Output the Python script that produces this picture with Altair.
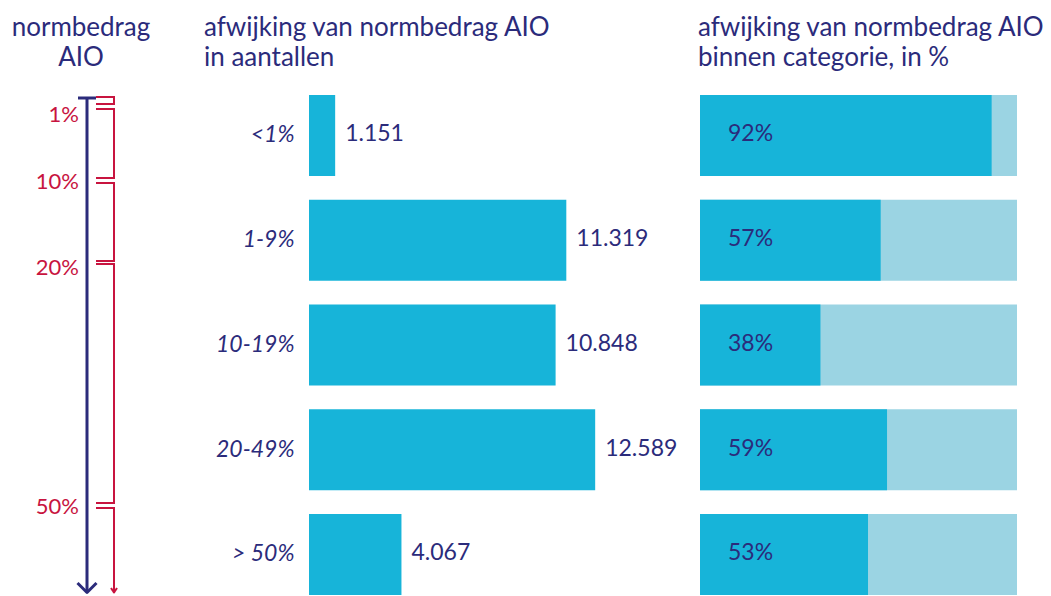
import altair as alt
import pandas as pd

# ---------------- data ----------------
categories = ["<1%", "1-9%", "10-19%", "20-49%", "> 50%"]
counts = [1151, 11319, 10848, 12589, 4067]
shares = [92, 57, 38, 59, 53]

# schematic "normbedrag AIO" arrow (positions along a schematic axis)
threshold_labels = ["1%", "10%", "20%", "50%"]
threshold_label_pos = [114, 181, 267, 506]
bracket_tops = [96, 108, 182, 263, 507]
bracket_bottoms = [103, 177, 260, 502, 592]

NAVY = "#2b2b7b"
RED = "#c8143f"
CYAN = "#17b4d9"
LIGHT = "#9bd4e3"
FONT = "Lato"
H = 596
WA, WB, WC = 308, 391, 317

# ---------------- panel A: schematic ----------------
xs = alt.Scale(domain=[0, WA], nice=False, zero=False)
ysA = alt.Scale(domain=[0, H], nice=False, zero=False, reverse=True)

blue = pd.DataFrame([
    dict(x=86, x2=86, y=97, y2=591),
    dict(x=77, x2=95, y=97, y2=97),
    dict(x=76.5, x2=86.5, y=582, y2=592),
    dict(x=95.5, x2=85.5, y=582, y2=592),
])
red_rows = []
n = len(bracket_tops)
for i, (t, b) in enumerate(zip(bracket_tops, bracket_bottoms)):
    red_rows.append(dict(x=95, x2=114, y=t, y2=t))
    red_rows.append(dict(x=113, x2=113, y=t, y2=b))
    if i < n - 1:
        red_rows.append(dict(x=95, x2=114, y=b, y2=b))
red_rows.append(dict(x=110, x2=113.3, y=587, y2=592))
red_rows.append(dict(x=116, x2=112.7, y=587, y2=592))
red = pd.DataFrame(red_rows)

def seg_enc(ch):
    return ch.encode(
        x=alt.X("x:Q", scale=xs, axis=None), x2="x2:Q",
        y=alt.Y("y:Q", scale=ysA, axis=None), y2="y2:Q",
    )

blue_layer = seg_enc(alt.Chart(blue).mark_rule(color=NAVY, strokeWidth=3))
red_layer = seg_enc(alt.Chart(red).mark_rule(color=RED, strokeWidth=2))
thr = pd.DataFrame({"label": threshold_labels, "pos": threshold_label_pos})
thr_layer = alt.Chart(thr).mark_text(
    align="right", baseline="middle", font=FONT, fontSize=22, color=RED
).encode(
    x=alt.value(78), y=alt.Y("pos:Q", scale=ysA, axis=None), text="label:N"
)
titleA = alt.Chart(pd.DataFrame({"t": [0]})).mark_text(
    text=["normbedrag", "AIO"], align="center", baseline="alphabetic",
    font=FONT, fontSize=26, lineHeight=29.5, color=NAVY,
).encode(x=alt.value(80), y=alt.value(35))

panelA = alt.layer(red_layer, blue_layer, thr_layer, titleA).properties(width=WA, height=H)

# ---------------- shared table ----------------
df = pd.DataFrame({
    "cat": categories,
    "count": counts,
    "label": [f"{c:,}".replace(",", ".") for c in counts],
    "share": shares,
    "full": [100] * len(shares),
    "plabel": [f"{s}%" for s in shares],
})

band = alt.Scale(domain=categories, paddingInner=0.2267, paddingOuter=0.458, align=0.979)

# ---------------- panel B: counts ----------------
yB = alt.Y("cat:N", sort=categories, scale=band, title=None,
           axis=alt.Axis(domain=False, ticks=False, grid=False, labelPadding=15,
                         labelFont=FONT, labelFontSize=23, labelFontStyle="italic",
                         labelColor=NAVY))
baseB = alt.Chart(df).encode(y=yB)
barsB = baseB.mark_bar(color=CYAN).encode(
    x=alt.X("count:Q", scale=alt.Scale(domain=[0, 17200], nice=False), axis=None)
)
valsB = baseB.mark_text(align="left", baseline="middle", dx=10, dy=-1,
                        font=FONT, fontSize=23, color=NAVY).encode(
    x="count:Q", text="label:N"
)
titleB = alt.Chart(pd.DataFrame({"t": [0]})).mark_text(
    text=["afwijking van normbedrag AIO", "in aantallen"], align="left",
    baseline="alphabetic", font=FONT, fontSize=26, lineHeight=29.5, color=NAVY,
).encode(x=alt.value(-105), y=alt.value(35))
panelB = alt.layer(barsB, valsB, titleB).properties(width=WB, height=H)

# ---------------- panel C: shares ----------------
yC = alt.Y("cat:N", sort=categories, scale=band, axis=None)
baseC = alt.Chart(df).encode(y=yC)
xC = alt.Scale(domain=[0, 100], nice=False)
bgC = baseC.mark_bar(color=LIGHT).encode(x=alt.X("full:Q", scale=xC, axis=None))
fgC = baseC.mark_bar(color=CYAN).encode(x=alt.X("share:Q", scale=xC, axis=None))
labC = baseC.mark_text(align="left", baseline="middle", dx=28, dy=-1,
                       font=FONT, fontSize=23, color=NAVY).encode(
    x=alt.datum(0), text="plabel:N"
)
titleC = alt.Chart(pd.DataFrame({"t": [0]})).mark_text(
    text=["afwijking van normbedrag AIO", "binnen categorie, in %"], align="left",
    baseline="alphabetic", font=FONT, fontSize=26, lineHeight=29.5, color=NAVY,
).encode(x=alt.value(-2), y=alt.value(35))
panelC = alt.layer(bgC, fgC, labC, titleC).properties(width=WC, height=H)

chart = alt.hconcat(panelA, panelB, panelC, spacing=0, bounds="flush").properties(
    padding=0, background="white"
).configure_view(stroke="transparent", fill="white")

chart.save("out.html", embed_options={"renderer": "svg", "actions": False})
